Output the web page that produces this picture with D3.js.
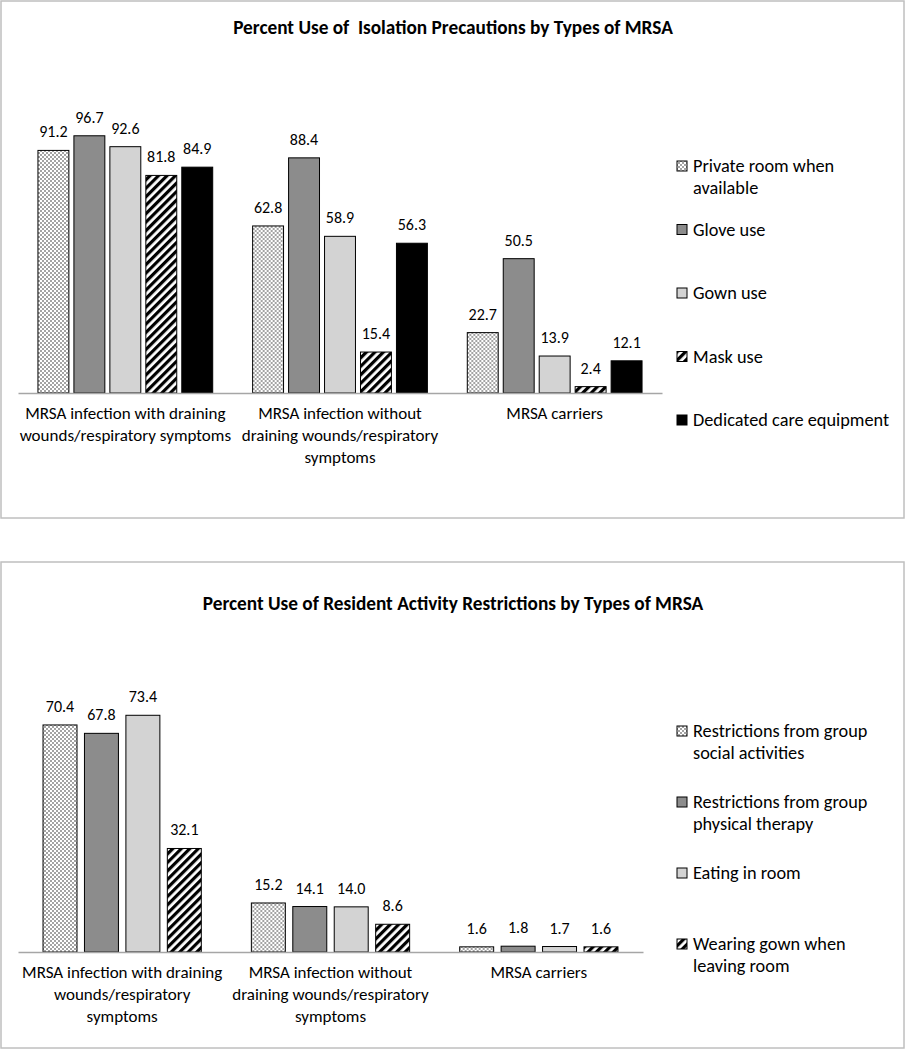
<!DOCTYPE html>
<html><head><meta charset="utf-8">
<script src="https://cdn.jsdelivr.net/npm/d3@7"></script>
<style>body{margin:0;background:#fff}svg{display:block}text{font-family:Carlito,Lato,"Open Sans",sans-serif;fill:#000}</style>
</head><body>
<svg id="c" width="906" height="1050"></svg>
<script>
// ---- data ----
const topTitle = "Percent Use of\u00a0 Isolation Precautions by Types of MRSA";
const topCategories = ["MRSA infection with draining\nwounds/respiratory symptoms", "MRSA infection without\ndraining wounds/respiratory\nsymptoms", "MRSA carriers"];
const topSeries = ["Private room when\navailable", "Glove use", "Gown use", "Mask use", "Dedicated care equipment"];
const topValues = [
  [91.2, 96.7, 92.6, 81.8, 84.9],
  [62.8, 88.4, 58.9, 15.4, 56.3],
  [22.7, 50.5, 13.9, 2.4, 12.1]
];
const botTitle = "Percent Use of Resident Activity Restrictions by Types of MRSA";
const botCategories = ["MRSA infection with draining\nwounds/respiratory\nsymptoms", "MRSA infection without\ndraining wounds/respiratory\nsymptoms", "MRSA carriers"];
const botSeries = ["Restrictions from group\nsocial activities", "Restrictions from group\nphysical therapy", "Eating in room", "Wearing gown when\nleaving room"];
const botValues = [
  [70.4, 67.8, 73.4, 32.1],
  [15.2, 14.1, 14.0, 8.6],
  [1.6, 1.8, 1.7, 1.6]
];

const svg = d3.select("#c");
const defs = svg.append("defs");
// dotted pattern
const pd = defs.append("pattern").attr("id","dots").attr("patternUnits","userSpaceOnUse").attr("width",4).attr("height",4);
pd.append("rect").attr("width",4).attr("height",4).attr("fill","#fff");
pd.append("circle").attr("cx",1).attr("cy",1).attr("r",0.7).attr("fill","#000");
pd.append("circle").attr("cx",3).attr("cy",3).attr("r",0.7).attr("fill","#000");
// stripe pattern
const ps = defs.append("pattern").attr("id","stripes").attr("patternUnits","userSpaceOnUse").attr("width",6).attr("height",6).attr("patternTransform","rotate(45)");
ps.append("rect").attr("width",6).attr("height",6).attr("fill","#fff");
ps.append("rect").attr("x",0).attr("y",0).attr("width",3.2).attr("height",6).attr("fill","#000");

const fillsTop = ["url(#dots)", "#8c8c8c", "#d3d3d3", "url(#stripes)", "#000"];
const fillsBot = ["url(#dots)", "#8c8c8c", "#d3d3d3", "url(#stripes)"];

function panel(cfg){
  const g = svg.append("g");
  g.append("rect").attr("x",cfg.frame[0]).attr("y",cfg.frame[1]).attr("width",cfg.frame[2]).attr("height",cfg.frame[3])
    .attr("fill","#fff").attr("stroke","#bfbfbf").attr("stroke-width",1.5);
  g.append("text").attr("x",453).attr("y",cfg.titleY).attr("text-anchor","middle")
    .style("font-weight","bold").style("font-size","19.3px").text(cfg.title);
  const x0 = d3.scaleBand().domain(cfg.categories).range(cfg.xr).paddingInner(0).paddingOuter(0);
  const x1 = d3.scaleBand().domain(d3.range(cfg.series.length)).range([0,x0.bandwidth()])
    .paddingInner(cfg.pi).paddingOuter(cfg.po);
  const y = d3.scaleLinear().domain([0,cfg.ymax]).range([cfg.base, cfg.top]);
  const groups = g.selectAll("g.grp").data(cfg.categories).join("g").attr("class","grp")
    .attr("transform", d => `translate(${x0(d)},0)`);
  groups.each(function(cat, ci){
    const gg = d3.select(this);
    const vals = cfg.values[ci];
    gg.selectAll("rect").data(vals).join("rect")
      .attr("x",(d,i)=>x1(i)).attr("width",x1.bandwidth())
      .attr("y",d=>y(d)).attr("height",d=>y(0)-y(d))
      .attr("fill",(d,i)=>cfg.fills[i]).attr("stroke","#000").attr("stroke-width",1);
    gg.selectAll("text.v").data(vals).join("text").attr("class","v")
      .attr("x",(d,i)=>x1(i)+x1.bandwidth()/2).attr("y",d=>y(d)-13)
      .attr("text-anchor","middle").style("font-size","16px").text(d=>d.toFixed(1));
  });
  const ax = g.append("g").attr("transform",`translate(0,${cfg.base})`)
    .call(d3.axisBottom(x0).tickSize(0).tickSizeOuter(0).tickFormat(""));
  ax.select(".domain").attr("stroke","#a6a6a6").attr("stroke-width",1.5);
  ax.selectAll(".tick text").remove();
  ax.selectAll(".tick").each(function(d){
    const t = d3.select(this).append("text").attr("text-anchor","middle").style("font-size","17px").attr("fill","#000");
    d.split("\n").forEach((ln,i)=>t.append("tspan").attr("x",0).attr("y",26+i*22).text(ln));
  });
  // legend
  const lg = g.append("g");
  cfg.series.forEach((s,i)=>{
    const yy = cfg.legY + i*cfg.legStep;
    lg.append("rect").attr("x",677).attr("y",yy-11).attr("width",10).attr("height",10)
      .attr("fill",cfg.fills[i]).attr("stroke","#000").attr("stroke-width",1);
    const t = lg.append("text").style("font-size","18.3px");
    s.split("\n").forEach((ln,j)=>t.append("tspan").attr("x",693).attr("y",yy+j*22).text(ln));
  });
}

panel({frame:[1,1,903,517], title:topTitle, titleY:34, categories:topCategories, series:topSeries, values:topValues,
  fills:fillsTop, xr:[18,662], pi:0.14, po:0.555, ymax:100, base:393, top:127, legY:172, legStep:63.5});
panel({frame:[1,562,903,486], title:botTitle, titleY:610, categories:botCategories, series:botSeries, values:botValues,
  fills:fillsBot, xr:[18,643], pi:0.18, po:0.604, ymax:80, base:952, top:694, legY:737, legStep:71});
</script>
</body></html>
